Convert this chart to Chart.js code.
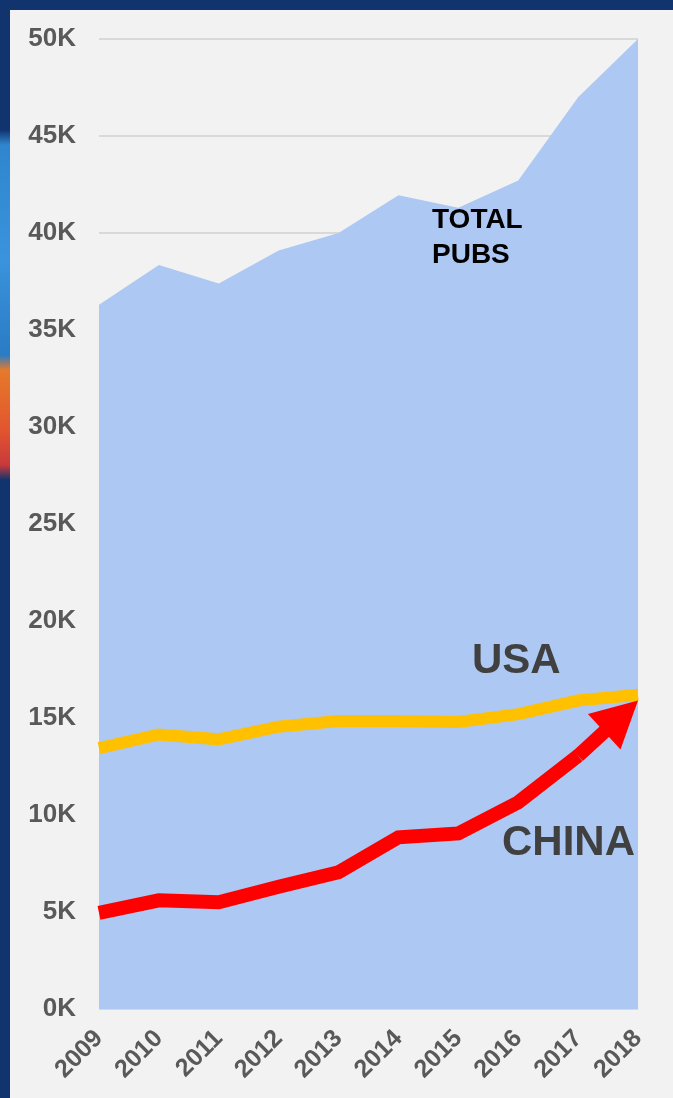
<!DOCTYPE html>
<html>
<head>
<meta charset="utf-8">
<script src="https://cdn.jsdelivr.net/npm/chart.js@4/dist/chart.umd.min.js"></script>
<style>
    html, body { margin: 0; padding: 0; background: #11346e; }
    #wrap {
        position: absolute; left: 0; top: 0; width: 673px; height: 1098px;
        background: #11346e;
    }
    #strip {
        position: absolute; left: 0; top: 10px; width: 10px; height: 1088px;
        background: linear-gradient(to bottom, #11346e 0px, #11346e 120px, #2f86cf 135px, #3a93dc 250px,
            #2a7cc4 345px, #e67a2a 360px, #e2552f 420px, #c8393c 455px, #11346e 470px, #11346e 100%);
    }
    #panel {
        position: absolute; left: 10px; top: 10px; width: 663px; height: 1088px;
        background: #f2f2f2;
    }
</style>
</head>
<body>
<div id="wrap">
    <div id="strip"></div>
    <div id="panel"><canvas id="myChart" width="663" height="1088"></canvas></div>
</div>
<script>
    let years = ["2009", "2010", "2011", "2012", "2013", "2014", "2015", "2016", "2017", "2018"];
    let total_pubs = [36300, 38350, 37400, 39100, 40000, 41950, 41300, 42700, 47000, 50000];
    let usa_pubs = [13450, 14150, 13900, 14550, 14850, 14850, 14800, 15200, 15900, 16200];
    let china_pubs = [4950, 5600, 5500, 6300, 7050, 8850, 9050, 10650, 13050, 15900];
    let y_ticks = [0, 5000, 10000, 15000, 20000, 25000, 30000, 35000, 40000, 45000, 50000];

    // arrow head on the China line + text labels
    var extrasPlugin = {
        id: "extras",
        afterDatasetsDraw: function(chart) {
            let ctx = chart.ctx;
            let xs = chart.scales.x;
            let ys = chart.scales.y;
            let n = china_pubs.length;
            let x0 = xs.getPixelForValue(n - 2), y0 = ys.getPixelForValue(china_pubs[n - 2]);
            let x1 = xs.getPixelForValue(n - 1), y1 = ys.getPixelForValue(china_pubs[n - 1]);
            let dx = x1 - x0, dy = y1 - y0;
            let len = Math.sqrt(dx * dx + dy * dy);
            let ux = dx / len, uy = dy / len;
            let headLen = 46, headHalf = 24;
            let bx = x1 - ux * headLen, by = y1 - uy * headLen;

            ctx.save();
            ctx.strokeStyle = "#ff0000";
            ctx.lineWidth = 14;
            ctx.beginPath();
            ctx.moveTo(x0, y0);
            ctx.lineTo(bx + ux * 4, by + uy * 4);
            ctx.stroke();

            ctx.fillStyle = "#ff0000";
            ctx.beginPath();
            ctx.moveTo(x1, y1);
            ctx.lineTo(bx - uy * headHalf, by + ux * headHalf);
            ctx.lineTo(bx + uy * headHalf, by - ux * headHalf);
            ctx.closePath();
            ctx.fill();

            ctx.textAlign = "left";
            ctx.textBaseline = "alphabetic";
            ctx.fillStyle = "#000000";
            ctx.font = "bold 28px 'Liberation Sans', Arial, sans-serif";
            ctx.fillText("TOTAL", 422, 218);
            ctx.fillText("PUBS", 422, 253);

            ctx.fillStyle = "#404040";
            ctx.font = "bold 42px 'Liberation Sans', Arial, sans-serif";
            ctx.fillText("USA", 462, 663);
            ctx.fillText("CHINA", 492, 845);
            ctx.restore();
        }
    };

    var myChart = new Chart(document.getElementById("myChart").getContext("2d"), {
        type: "line",
        data: {
            labels: years,
            datasets: [
                {
                    label: "China",
                    data: china_pubs,
                    borderColor: "#ff0000",
                    borderWidth: 14,
                    pointRadius: 0,
                    fill: false,
                    order: 1,
                    segment: {
                        borderColor: function(c) { return c.p1DataIndex === china_pubs.length - 1 ? "rgba(0,0,0,0)" : "#ff0000"; }
                    }
                },
                {
                    label: "USA",
                    data: usa_pubs,
                    borderColor: "#ffc000",
                    borderWidth: 12,
                    pointRadius: 0,
                    fill: false,
                    order: 2
                },
                {
                    label: "Total pubs",
                    data: total_pubs,
                    borderWidth: 0,
                    borderColor: "rgba(0,0,0,0)",
                    backgroundColor: "#adc8f2",
                    pointRadius: 0,
                    fill: "origin",
                    order: 3
                }
            ]
        },
        options: {
            responsive: false,
            animation: false,
            layout: { padding: { left: 0, right: 35, top: 29, bottom: 0 } },
            plugins: {
                legend: { display: false },
                tooltip: { enabled: false }
            },
            scales: {
                x: {
                    offset: false,
                    grid: { display: false },
                    border: { display: false },
                    ticks: {
                        color: "#595959",
                        font: { family: "'Liberation Sans', Arial, sans-serif", size: 25, weight: "bold" },
                        minRotation: 45,
                        maxRotation: 45,
                        padding: 7
                    },
                    afterFit: function(scale) { scale.height = 89; }
                },
                y: {
                    min: 0,
                    max: 50000,
                    afterBuildTicks: function(scale) {
                        scale.ticks = y_ticks.map(function(v) { return { value: v }; });
                    },
                    grid: { color: "#d9d9d9", lineWidth: 2, drawTicks: false },
                    border: { display: false },
                    ticks: {
                        color: "#595959",
                        font: { family: "'Liberation Sans', Arial, sans-serif", size: 26, weight: "bold" },
                        padding: 23,
                        callback: function(v) { return (v / 1000) + "K"; }
                    },
                    afterFit: function(scale) {
                        scale.width = 89;
                        scale.paddingTop = 0;
                        scale.paddingBottom = 0;
                    }
                }
            }
        },
        plugins: [extrasPlugin]
    });
</script>
</body>
</html>
